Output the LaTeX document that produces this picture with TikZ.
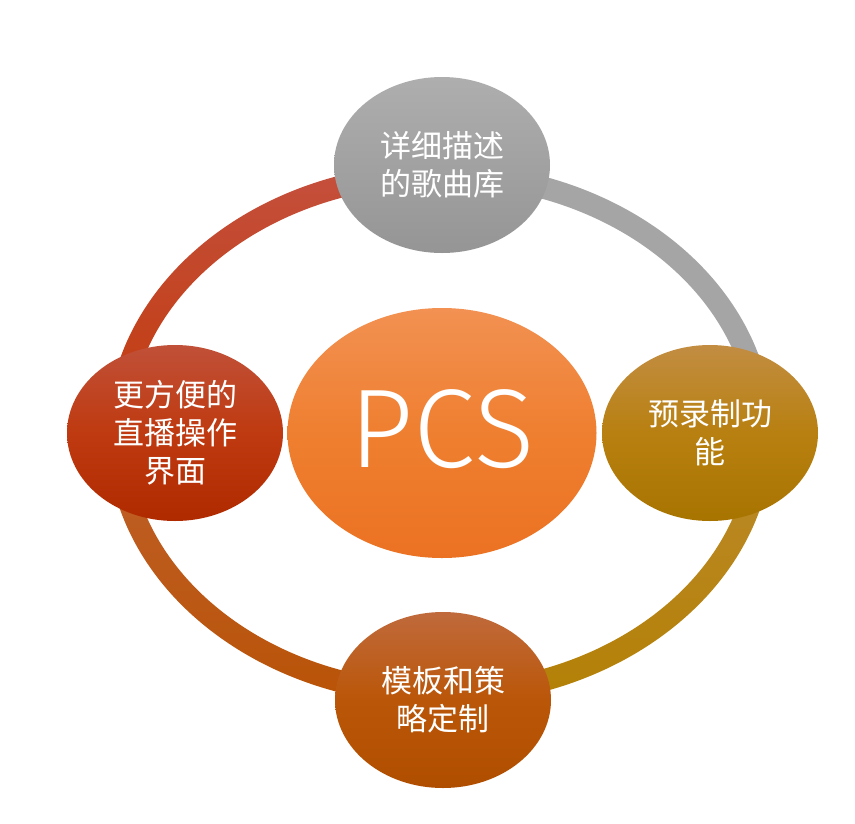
\documentclass[tikz,border=0pt]{standalone}
\usepackage{fontspec}
\setmainfont{Noto Sans CJK SC}
\newfontfamily\pcsfont{Fira Sans Light}
\usetikzlibrary{shapes.geometric,calc}
\definecolor{redArcTop}{HTML}{C4503E}
\definecolor{redArcBot}{HTML}{C23A0A}
\definecolor{grayArc}{HTML}{A5A5A5}
\definecolor{goldArcTop}{HTML}{BC8A2C}
\definecolor{goldArcBot}{HTML}{B38005}
\definecolor{orArcTop}{HTML}{C0602C}
\definecolor{orArcBot}{HTML}{B85306}
\definecolor{grayTop}{HTML}{AEAEAE}
\definecolor{grayBot}{HTML}{959595}
\definecolor{goldTop}{HTML}{C28D42}
\definecolor{goldMid}{HTML}{B88010}
\definecolor{goldBot}{HTML}{A87400}
\definecolor{brTop}{HTML}{C06A3C}
\definecolor{brMid}{HTML}{BA5608}
\definecolor{brBot}{HTML}{B04E00}
\definecolor{rdTop}{HTML}{C05038}
\definecolor{rdMid}{HTML}{BF3A10}
\definecolor{rdBot}{HTML}{B02A00}
\definecolor{ctTop}{HTML}{F29152}
\definecolor{ctMid}{HTML}{EF7F30}
\definecolor{ctBot}{HTML}{EB7222}
\newcommand\ringsector[3]{%
  \path[#3] ($(C)+(#1:333pt and 271pt)$)
    arc[start angle=#1,end angle=#2,x radius=333pt,y radius=271pt]
    -- ($(C)+(#2:311pt and 249pt)$)
    arc[start angle=#2,end angle=#1,x radius=311pt,y radius=249pt] -- cycle;}
\tikzset{
  sat/.style={ellipse, inner sep=0pt, minimum width=216pt, minimum height=176pt,
    text=white, align=center, font=\fontsize{31}{38}\selectfont},
}
\begin{document}
\begin{tikzpicture}[x=1pt,y=1pt]
\useasboundingbox (0,0) rectangle (855,-823);
\fill[white] (0,0) rectangle (855,-823);
\coordinate (C) at (440,-434);
% ring
\ringsector{0}{90}{fill=grayArc}
\ringsector{90}{180}{top color=redArcTop,bottom color=redArcBot}
\ringsector{180}{270}{top color=orArcTop,bottom color=orArcBot}
\ringsector{270}{360}{top color=goldArcTop,bottom color=goldArcBot}
% satellites
\node[sat, top color=grayTop, bottom color=grayBot] (top) at (442,-165) {详细描述\\的歌曲库};
\node[sat, top color=goldTop, bottom color=goldBot, middle color=goldMid] (right) at (710,-433) {预录制功\\能};
\node[sat, top color=brTop, bottom color=brBot, middle color=brMid] (bottom) at (443,-700) {模板和策\\略定制};
\node[sat, top color=rdTop, bottom color=rdBot, middle color=rdMid] (left) at (175,-433) {更方便的\\直播操作\\界面};
% center
\node[ellipse, inner sep=0pt, minimum width=309pt, minimum height=250pt,
  top color=ctTop, bottom color=ctBot, middle color=ctMid, text=white,
  font=\pcsfont\fontsize{112}{112}\selectfont] (pcs) at (442,-433) {\raisebox{8pt}{PCS}};
\end{tikzpicture}
\end{document}
